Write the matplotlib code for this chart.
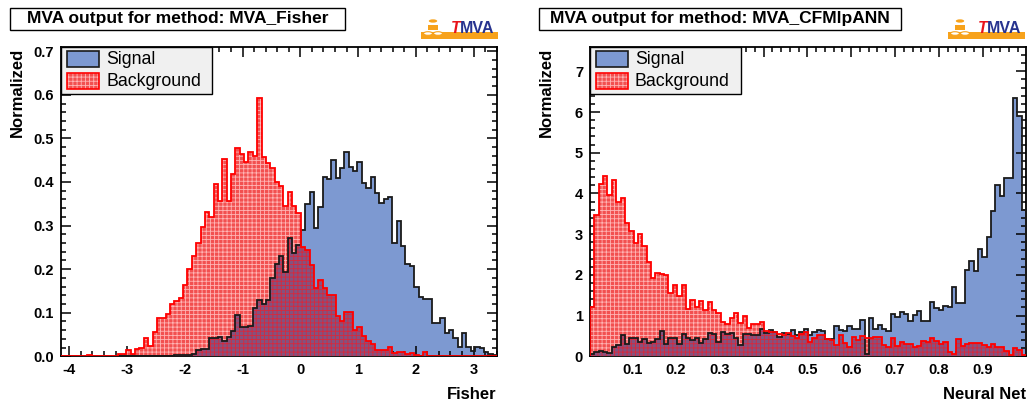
import numpy as np
import matplotlib
matplotlib.use("Agg")
import matplotlib.pyplot as plt
from matplotlib.patches import Rectangle, Circle
from matplotlib.ticker import MultipleLocator, AutoMinorLocator

plt.rcParams['font.family'] = ['Liberation Sans', 'DejaVu Sans']
plt.rcParams['hatch.linewidth'] = 0.6

# ---- histogram contents (100 bins each) ----
fisher_range = (-4.144, 3.406)
fisher_sig = [
    0, 0, 0, 0, 0, 0, 0, 0, 0, 0,
    0, 0, 0, 0, 0, 0, 0, 0, 0, 0,
    0, 0, 0, 0, 0, 0, .002, .002, .003, .004,
    .005, .015, .016, .016, .041, .042, .045, .036, .044, .058,
    .095, .067, .068, .070, .110, .129, .121, .129, .179, .212,
    .229, .194, .271, .238, .255, .290, .349, .378, .294, .342,
    .411, .406, .450, .408, .431, .469, .435, .425, .446, .398,
    .386, .412, .374, .351, .361, .366, .261, .310, .252, .212,
    .208, .160, .137, .132, .132, .077, .077, .089, .054, .060,
    .043, .022, .054, .022, .012, .022, .018, .009, .005, .002,
]
fisher_bkg = [
    0, 0, 0, 0, 0, 0, .003, 0, 0, 0,
    0, 0, 0, .005, .005, .015, .005, .017, .018, .041,
    .024, .055, .089, .089, .097, .119, .128, .133, .164, .200,
    .229, .261, .297, .330, .320, .395, .357, .452, .357, .418,
    .477, .465, .446, .469, .459, .593, .457, .443, .432, .400,
    .390, .346, .378, .345, .328, .250, .244, .209, .156, .175,
    .156, .141, .141, .093, .082, .101, .101, .060, .067, .047,
    .034, .028, .015, .015, .015, .021, .008, .010, .010, .005,
    .008, .003, 0, .011, 0, 0, 0, 0, 0, 0,
    0, 0, 0, 0, 0, 0, 0, 0, 0, 0,
]

mlp_range = (0.0033, 0.9992)
mlp_sig = [
    .05, .11, .14, .10, .08, .22, .28, .52, .30, .44,
    .44, .36, .42, .32, .36, .42, .61, .30, .45, .45,
    .30, .54, .45, .40, .44, .32, .42, .57, .55, .36,
    .60, .55, .57, .45, .28, .55, .55, .52, .52, .66,
    .57, .65, .60, .47, .57, .55, .65, .52, .60, .66,
    .52, .59, .65, .62, .42, .42, .75, .65, .62, .75,
    .68, .68, .89, .05, .93, .66, .78, .66, .62, 1.04,
    .97, 1.08, 1.04, .87, 1.02, 1.12, .87, .87, 1.34, 1.18,
    1.14, 1.24, 1.21, 1.70, 1.31, 1.31, 2.12, 2.33, 2.10, 2.64,
    2.43, 2.94, 3.56, 4.20, 3.94, 4.37, 4.37, 6.34, 5.90, 3.60,
]
mlp_bkg = [
    1.22, 3.47, 4.24, 4.42, 3.97, 4.34, 3.80, 3.90, 3.27, 3.09,
    2.79, 3.00, 2.72, 2.31, 1.92, 2.04, 2.02, 2.00, 1.55, 1.75,
    1.47, 1.75, 1.16, 1.39, 1.22, 1.36, 1.14, 1.34, 1.14, 1.06,
    .85, .79, .93, 1.07, .81, 1.00, .69, .79, .80, .84,
    .63, .60, .60, .55, .52, .58, .50, .45, .55, .60,
    .36, .44, .52, .52, .42, .40, .28, .52, .32, .24,
    .47, .40, .50, .44, .44, .48, .48, .28, .23, .44,
    .25, .35, .30, .30, .22, .26, .38, .35, .44, .37,
    .30, .35, .10, .05, .42, .26, .31, .33, .32, .32,
    .27, .24, .31, .24, .23, .12, .03, .20, .16, .03,
]

W, H = 1028, 408
SIG_FILL = '#7d99d1'
SIG_LINE = '#1a1a1a'
BKG_FILL = '#f25050'
BKG_HATCH = '#ffb4b4'
MIX_FILL = '#84527f'
MIX_HATCH = '#d8283c'

fig = plt.figure(figsize=(W / 100, H / 100), dpi=100)


def fx(px):
    return px / W


def fy(py):
    return 1 - py / H


def draw_hist(ax, rng, sig, bkg):
    edges = np.linspace(rng[0], rng[1], len(sig) + 1)
    both = np.minimum(sig, bkg)
    ax.stairs(sig, edges, fill=True, facecolor=SIG_FILL, edgecolor='none', zorder=1)
    ax.stairs(bkg, edges, fill=True, facecolor=BKG_FILL, edgecolor=BKG_HATCH,
              hatch='++++', lw=0, zorder=2)
    # background pattern lets the signal show through where they overlap
    ax.stairs(both, edges, fill=True, facecolor=MIX_FILL, edgecolor=MIX_HATCH,
              hatch='++++', lw=0, zorder=3)
    ax.stairs(sig, edges, color=SIG_LINE, lw=1.3, zorder=4)
    ax.stairs(bkg, edges, color='red', lw=1.3, zorder=5)
    ax.set_xlim(rng)


def style_axes(ax, xmajor, ymajor, xfmt):
    ax.xaxis.set_major_locator(MultipleLocator(xmajor))
    ax.yaxis.set_major_locator(MultipleLocator(ymajor))
    ax.xaxis.set_minor_locator(AutoMinorLocator(5))
    ax.yaxis.set_minor_locator(AutoMinorLocator(5))
    ax.tick_params(which='both', direction='in', top=True, right=True, width=1.1)
    ax.tick_params(which='major', length=7, labelsize=10.5)
    ax.tick_params(which='minor', length=3.5)
    ax.tick_params(axis='x', pad=5)
    ax.tick_params(axis='y', pad=5)
    ax.xaxis.set_major_formatter(xfmt)
    for lab in ax.get_xticklabels() + ax.get_yticklabels():
        lab.set_fontweight('bold')
    for s in ax.spines.values():
        s.set_linewidth(1.3)


def legend_box(x0, y0):
    fig.add_artist(Rectangle((fx(x0), fy(y0 + 47)), fx(151), 47 / H,
                             facecolor='#f0f0f0', edgecolor='black', lw=1.0,
                             transform=fig.transFigure, zorder=10))
    fig.add_artist(Rectangle((fx(x0 + 6), fy(y0 + 20)), fx(32), 16 / H,
                             facecolor=SIG_FILL, edgecolor=SIG_LINE, lw=1.2,
                             transform=fig.transFigure, zorder=11))
    fig.add_artist(Rectangle((fx(x0 + 6), fy(y0 + 42)), fx(32), 16 / H,
                             facecolor=BKG_FILL, edgecolor=BKG_HATCH, hatch='++++', lw=0,
                             transform=fig.transFigure, zorder=11))
    fig.add_artist(Rectangle((fx(x0 + 6), fy(y0 + 42)), fx(32), 16 / H,
                             facecolor='none', edgecolor='red', lw=1.2,
                             transform=fig.transFigure, zorder=12))
    fig.text(fx(x0 + 45), fy(y0 + 12), 'Signal', fontsize=12.8, va='center', zorder=12)
    fig.text(fx(x0 + 45), fy(y0 + 34), 'Background', fontsize=12.8, va='center', zorder=12)


def title_box(x0, x1, text):
    fig.add_artist(Rectangle((fx(x0), fy(30)), fx(x1 - x0), 22 / H,
                             facecolor='white', edgecolor='black', lw=1.0,
                             transform=fig.transFigure))
    fig.text(fx((x0 + x1) / 2), fy(19), text, fontsize=12.5, fontweight='bold',
             ha='center', va='center')


def tmva_logo(x0):
    orange = '#f7a21b'
    fig.add_artist(Rectangle((fx(x0), fy(38.5)), fx(77), 6.5 / H, facecolor=orange,
                             edgecolor='none', transform=fig.transFigure))
    fig.add_artist(Circle((fx(x0 + 12), fy(21)), 4.2 / W, facecolor=orange,
                          edgecolor='none', transform=fig.transFigure))
    fig.add_artist(Rectangle((fx(x0 + 7), fy(30)), fx(10), 5 / H, facecolor=orange,
                             edgecolor='none', transform=fig.transFigure))
    for cx in (x0 + 7, x0 + 17):
        fig.add_artist(Circle((fx(cx), fy(33.5)), 4.5 / W, facecolor='white',
                              edgecolor=orange, lw=0.8, transform=fig.transFigure))
    fig.text(fx(x0 + 30), fy(28.5), 'T', color='#e8131b', fontsize=11.5,
             fontweight='bold', fontstyle='italic', va='center')
    fig.text(fx(x0 + 38.5), fy(28.5), 'MVA', color='#27338f', fontsize=11.5,
             fontweight='bold', va='center')


panels = [
    (61, fisher_range, fisher_sig, fisher_bkg, 'Fisher', 1, 0.1, 0.709,
     lambda v, p: f'{v:g}'),
    (590, mlp_range, mlp_sig, mlp_bkg, 'Neural Net', 0.1, 1, 7.59,
     lambda v, p: f'{v:.1f}'),
]

for x0, rng, sig, bkg, xlabel, xmaj, ymaj, ytop, fmt in panels:
    ax = fig.add_axes([fx(x0), fy(356.3), fx(436), 309 / H])
    draw_hist(ax, rng, sig, bkg)
    ax.set_ylim(0, ytop)
    style_axes(ax, xmaj, ymaj, fmt)
    ax.text(1.0, -0.123, xlabel, transform=ax.transAxes, ha='right', va='center',
            fontsize=12, fontweight='bold')
    ax.text(-0.1, 1.0, 'Normalized', transform=ax.transAxes, ha='center', va='top',
            rotation=90, fontsize=12, fontweight='bold')
    legend_box(x0, 47)

title_box(10, 345, 'MVA output for method: MVA_Fisher')
title_box(539, 901, 'MVA output for method: MVA_CFMlpANN')
tmva_logo(421)
tmva_logo(948)

fig.savefig('out.png', dpi=100)
